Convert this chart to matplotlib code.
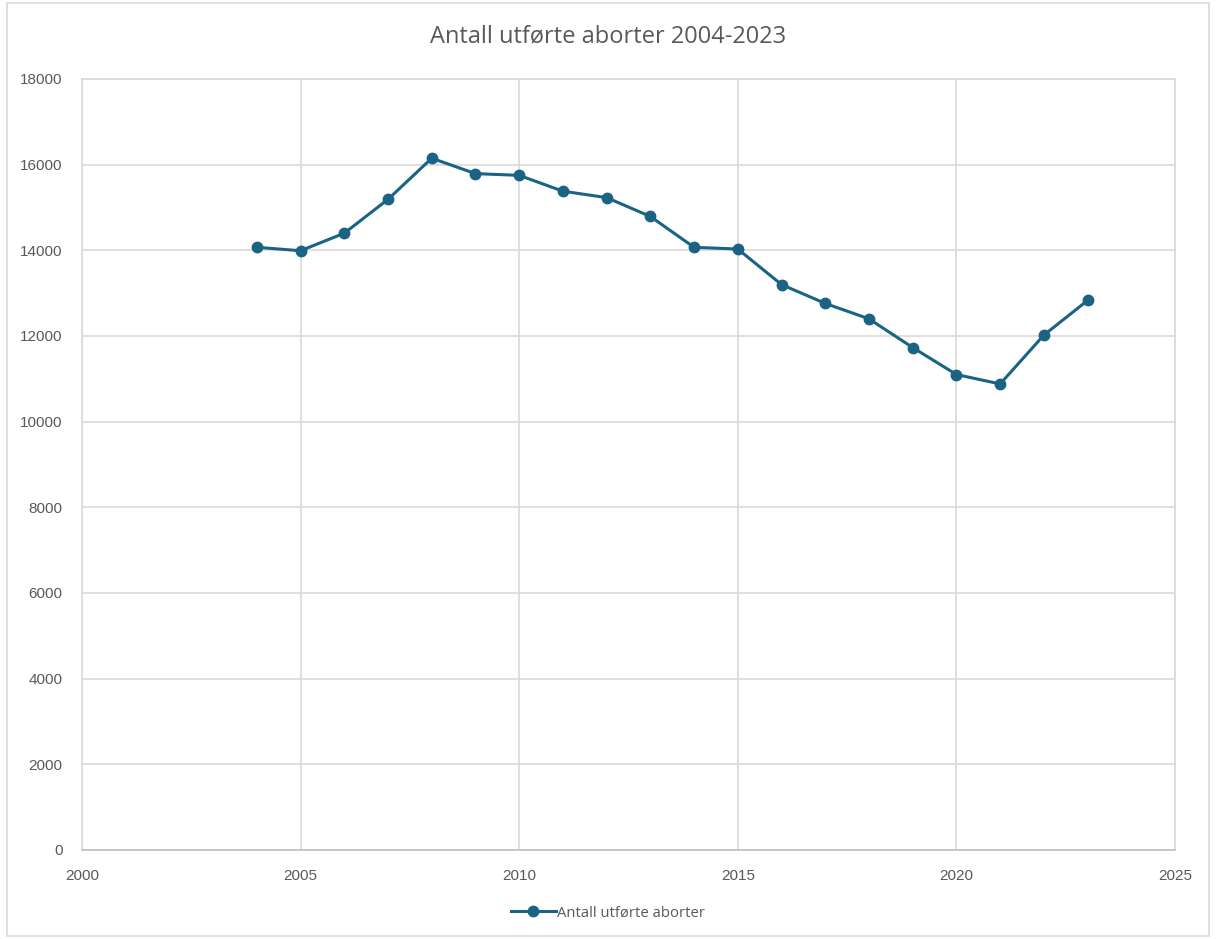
import matplotlib.pyplot as plt
from matplotlib.patches import Rectangle

plt.rcParams['font.family'] = ['Liberation Sans', 'DejaVu Sans']

# data
years = [2004, 2005, 2006, 2007, 2008, 2009, 2010, 2011, 2012, 2013,
         2014, 2015, 2016, 2017, 2018, 2019, 2020, 2021, 2022, 2023]
aborter = [14070, 13990, 14400, 15190, 16150, 15790, 15750, 15380, 15230, 14790,
           14070, 14030, 13200, 12760, 12400, 11730, 11100, 10880, 12020, 12830]
x_ticks = [2000, 2005, 2010, 2015, 2020, 2025]
y_ticks = list(range(0, 18001, 2000))

line_col = '#1b6384'
grid_col = '#d9d9d9'
text_col = '#595959'

fig = plt.figure(figsize=(12.16, 9.39), dpi=100)
ax = fig.add_axes([0.0674, 0.0948, 0.8989, 0.8211])

ax.plot(years, aborter, color=line_col, lw=2.2, marker='o', ms=7.5,
        label='Antall utførte aborter')

ax.set_xlim(2000, 2025)
ax.set_ylim(0, 18000)
ax.set_xticks(x_ticks)
ax.set_yticks(y_ticks)
ax.grid(True, color=grid_col, lw=1.2)
ax.set_axisbelow(True)
for s in ax.spines.values():
    s.set_color(grid_col)
    s.set_linewidth(1.2)
ax.spines['bottom'].set_color('#bfbfbf')
ax.tick_params(length=0, colors=text_col, labelsize=11)
ax.tick_params(axis='x', pad=14)
ax.tick_params(axis='y', pad=14)

fig.text(0.5, 0.961, 'Antall utførte aborter 2004-2023', ha='center', va='center',
         fontsize=17, color=text_col, family=['Open Sans', 'DejaVu Sans'])

leg = ax.legend(loc='center', bbox_to_anchor=(0.5, 0.028), bbox_transform=fig.transFigure,
                frameon=False, handlelength=3, handletextpad=0.1,
                prop={'family': ['Open Sans', 'DejaVu Sans'], 'size': 10.7})
for t in leg.get_texts():
    t.set_color(text_col)

fig.patches.append(Rectangle((0.006, 0.003), 0.988, 0.994, transform=fig.transFigure,
                             fill=False, edgecolor=grid_col, lw=1.2))

fig.savefig('out.png', dpi=100)
